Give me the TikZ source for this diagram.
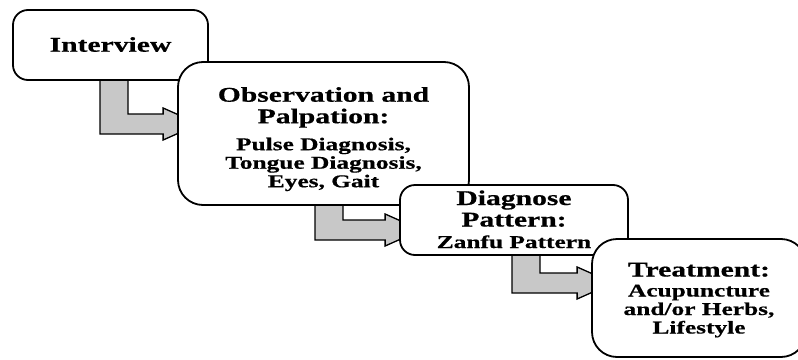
\documentclass[tikz,border=0pt]{standalone}
\usepackage{fontspec}
\newfontfamily\boxfont{Liberation Serif}[FakeStretch=1.41, BoldFeatures={FakeBold=0.6}]
\usetikzlibrary{calc}
\pgfdeclarelayer{bg}
\pgfsetlayers{bg,main}
\definecolor{arrowgray}{RGB}{200,200,200}
\newcommand{\titlefont}{\boxfont\bfseries\fontsize{21}{21.5}\selectfont}
\newcommand{\subfont}{\boxfont\bfseries\fontsize{18}{18.5}\selectfont}
% text block whose first baseline sits #1 above the box centre
\newcommand{\boxtext}[3]{\raisebox{#1}[0pt][0pt]{\parbox[t]{#2}{\centering #3}}}
% L-shaped block arrow from the bottom of #1 into the left side of #2, bending at #3
\newcommand{\bentarrow}[3]{%
  \draw[blockarrow] let \p1=(#1.south), \p2=(#2.west), \p3=(#3) in
    (\x3-14pt,\y1+4pt) -- (\x3+14pt,\y1+4pt) -- (\x3+14pt,\y3+10pt)
    -- (\x2-14pt,\y3+10pt) -- (\x2-14pt,\y3+16pt) -- (\x2+22pt,\y3)
    -- (\x2-14pt,\y3-16pt) -- (\x2-14pt,\y3-10pt) -- (\x3-14pt,\y3-10pt) -- cycle;}
\tikzset{
  stepbox/.style={draw=black, line width=1.8pt, fill=white, inner sep=0pt,
    rounded corners=#1},
  blockarrow/.style={draw=black, fill=arrowgray, line width=1.3pt, line join=miter},
}
\begin{document}
\begin{tikzpicture}[x=1pt, y=-1pt]
\useasboundingbox (0,0) rectangle (798,359);

\node[stepbox=15pt, minimum width=195pt, minimum height=70pt] (interview) at (110.5,45)
  {\boxtext{-6.7pt}{170pt}{\titlefont Interview}};
\node[stepbox=25pt, minimum width=291pt, minimum height=143pt] (observe) at (323.5,133.5)
  {\boxtext{31.8pt}{270pt}{\titlefont Observation and\\Palpation:\par\vspace{8.5pt}%
   \subfont Pulse Diagnosis,\\Tongue Diagnosis,\\Eyes, Gait}};
\node[stepbox=15pt, minimum width=228pt, minimum height=70pt] (diagnose) at (514,220)
  {\boxtext{15pt}{210pt}{\titlefont Diagnose\\Pattern:\par\vspace{3pt}%
   \subfont Zanfu Pattern}};
\node[stepbox=25pt, minimum width=214pt, minimum height=118pt] (treat) at (699,298)
  {\boxtext{21.5pt}{200pt}{\titlefont Treatment:\par\vspace{1.5pt}%
   \subfont Acupuncture\\and/or Herbs,\\Lifestyle}};

\coordinate (bend1) at (114,124);
\coordinate (bend2) at (329,230);
\coordinate (bend3) at (526,283);

\begin{pgfonlayer}{bg}
  \bentarrow{interview}{observe}{bend1}
  \bentarrow{observe}{diagnose}{bend2}
  \bentarrow{diagnose}{treat}{bend3}
\end{pgfonlayer}
\end{tikzpicture}
\end{document}
